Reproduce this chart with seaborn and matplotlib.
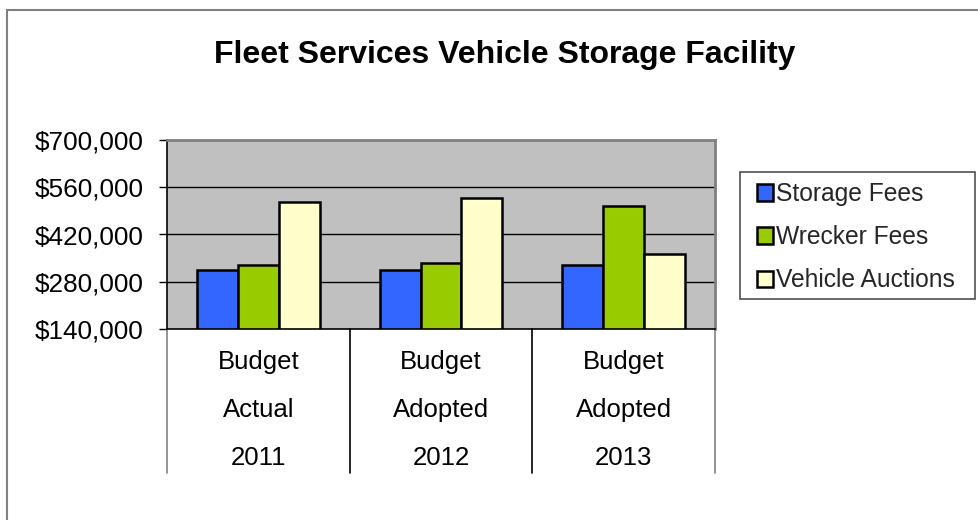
import matplotlib
matplotlib.use("Agg")
import matplotlib.pyplot as plt
import matplotlib.patches as mpatches
from matplotlib.ticker import FuncFormatter, FixedLocator
import seaborn as sns
import pandas as pd

categories = ["Budget\nActual\n2011", "Budget\nAdopted\n2012", "Budget\nAdopted\n2013"]
series = ["Storage Fees", "Wrecker Fees", "Vehicle Auctions"]
storage_fees = [314500, 314500, 329000]
wrecker_fees = [329000, 336000, 505800]
vehicle_auctions = [515600, 529400, 361000]
y_ticks = [140000, 280000, 420000, 560000, 700000]
colors = ["#3366FF", "#99CC00", "#FFFFCC"]

rows = []
for s, vals in zip(series, [storage_fees, wrecker_fees, vehicle_auctions]):
    for c, v in zip(categories, vals):
        rows.append({"Category": c, "Series": s, "Value": v})
df = pd.DataFrame(rows)

sns.set_theme(style="white")
plt.rcParams["font.family"] = ["Liberation Sans", "DejaVu Sans"]

FS = 18.8
LFS = 17.7

fig = plt.figure(figsize=(9.79, 5.20), dpi=100)
ax = fig.add_axes([167/979, 1-329/520, (715-167)/979, (329-140)/520])

sns.barplot(data=df, x="Category", y="Value", hue="Series", order=categories,
            hue_order=series, palette=colors, saturation=1, width=0.67, gap=0,
            edgecolor="black", linewidth=1.8, ax=ax, legend=True)

ax.set_facecolor("#C0C0C0")
ax.set_ylim(y_ticks[0], y_ticks[-1])
ax.set_xlim(-0.5, len(categories) - 0.5)
ax.yaxis.set_major_locator(FixedLocator(y_ticks))
ax.yaxis.set_major_formatter(FuncFormatter(lambda v, p: "${:,.0f}".format(v)))
ax.tick_params(axis="y", labelsize=FS, length=6, width=1, color="black",
               left=True, pad=11, labelcolor="black")
ax.tick_params(axis="x", bottom=False, labelbottom=False)
ax.set_xlabel("")
ax.set_ylabel("")
for yv in y_ticks[1:-1]:
    ax.axhline(yv, color="black", lw=1, zorder=0.5)
ax.set_axisbelow(True)
for side in ["top", "right"]:
    ax.spines[side].set_color("#808080")
    ax.spines[side].set_linewidth(2)
ax.spines["bottom"].set_color("black")
ax.spines["bottom"].set_linewidth(1.2)
ax.spines["left"].set_color("black")
ax.spines["left"].set_linewidth(1.2)

# category table below axis
trans = ax.get_xaxis_transform()
axh_px = 329 - 140
for b in range(len(categories) + 1):
    xb = b - 0.5
    col = "#808080" if b in (0, len(categories)) else "black"
    ax.plot([xb, xb], [0, -(473 - 329) / axh_px], color=col, lw=1.2,
            transform=trans, clip_on=False)
for i, c in enumerate(categories):
    for j, line in enumerate(c.split("\n")):
        ypx = [362, 410, 458][j]
        ax.text(i, -(ypx - 329) / axh_px, line, transform=trans, ha="center",
                va="center", fontsize=18.5, color="black")

# legend (frame drawn separately)
handles = [mpatches.Rectangle((0, 0), 1, 1, facecolor=col, edgecolor="black", lw=1.8)
           for col in colors]
ax.legend(handles, series, loc="upper left", bbox_to_anchor=(757/979, 1-182/520),
          bbox_transform=fig.transFigure, frameon=False,
          fontsize=LFS, handlelength=0.65, handleheight=0.65,
          handletextpad=0.12, labelspacing=0.78, borderpad=0, borderaxespad=0)
fig.patches.append(mpatches.Rectangle((740/979, 1-299/520), (975-740)/979, (299-172)/520,
                                      transform=fig.transFigure, fill=False,
                                      edgecolor="#505050", lw=1.2))

fig.text(505/979, 1-55/520, "Fleet Services Vehicle Storage Facility",
         ha="center", va="center", fontsize=23, fontweight="bold", color="black")

# outer chart border (only left and top visible)
fig.patches.append(mpatches.Rectangle((7/979, -0.2), 1.5, 1.2 - 10/520,
                                      transform=fig.transFigure, fill=False,
                                      edgecolor="#808080", lw=1.5))

fig.savefig("out.png", dpi=100, facecolor="white")
